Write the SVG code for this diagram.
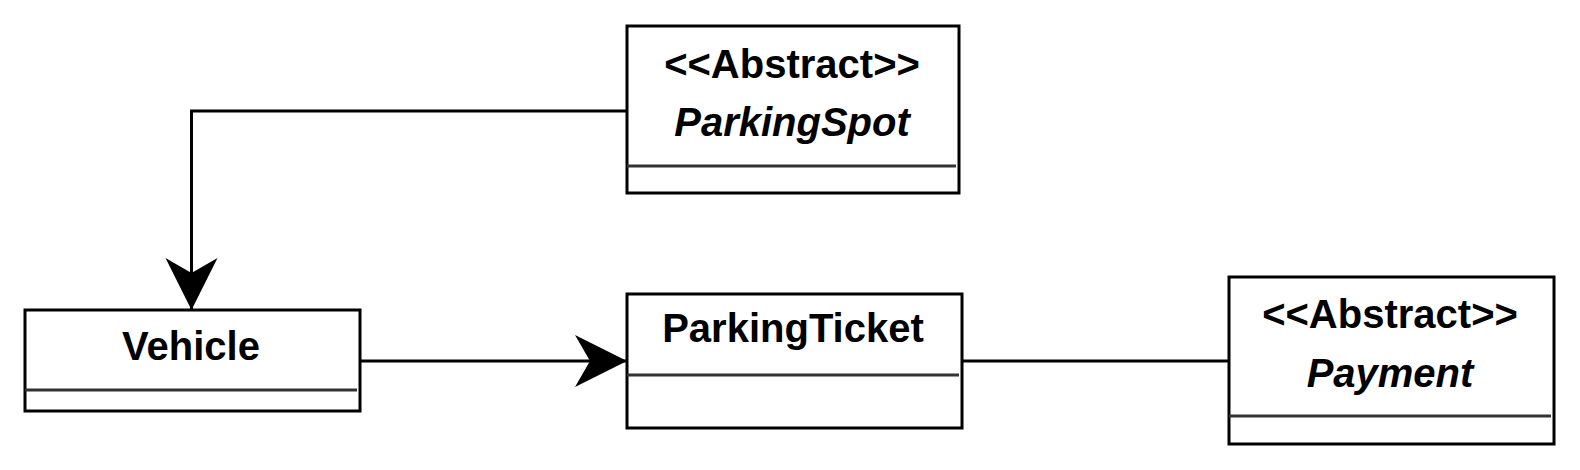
<svg xmlns="http://www.w3.org/2000/svg" width="1580" height="470" viewBox="0 0 1580 470">
<style>
.box{fill:#fff;stroke:#000;stroke-width:3}
.div{stroke:#333;stroke-width:3}
.t{font-family:"Liberation Sans",Arial,sans-serif;font-weight:bold;font-size:40px;text-anchor:middle;fill:#000}
.i{font-style:italic}
.c{fill:none;stroke:#000;stroke-width:3}
</style>
<defs>
<marker id="arr" markerUnits="userSpaceOnUse" markerWidth="60" markerHeight="60" refX="52" refY="26" orient="auto">
<path d="M52,26 L0,0 L15,26 L0,52 Z" fill="#000"/>
</marker>
</defs>
<g id="connectors">
<path class="c" d="M627,111 H191.5 V310" marker-end="url(#arr)"/>
<path class="c" d="M360,361 H627" marker-end="url(#arr)"/>
<path class="c" d="M962,361 H1229"/>
</g>
<g id="ParkingSpot">
<rect class="box" x="627" y="26" width="332" height="167"/>
<line class="div" x1="627" y1="166" x2="956" y2="166"/>
<text class="t" x="792" y="78">&lt;&lt;Abstract&gt;&gt;</text>
<text class="t i" x="792" y="136">ParkingSpot</text>
</g>
<g id="Vehicle">
<rect class="box" x="25" y="310" width="335" height="101"/>
<line class="div" x1="25" y1="390" x2="357" y2="390"/>
<text class="t" x="191" y="360">Vehicle</text>
</g>
<g id="ParkingTicket">
<rect class="box" x="627" y="294" width="335" height="134"/>
<line class="div" x1="627" y1="375" x2="959" y2="375"/>
<text class="t" x="793" y="342">ParkingTicket</text>
</g>
<g id="Payment">
<rect class="box" x="1229" y="277" width="325" height="167"/>
<line class="div" x1="1229" y1="416" x2="1551" y2="416"/>
<text class="t" x="1390" y="328">&lt;&lt;Abstract&gt;&gt;</text>
<text class="t i" x="1390" y="387">Payment</text>
</g>
</svg>
